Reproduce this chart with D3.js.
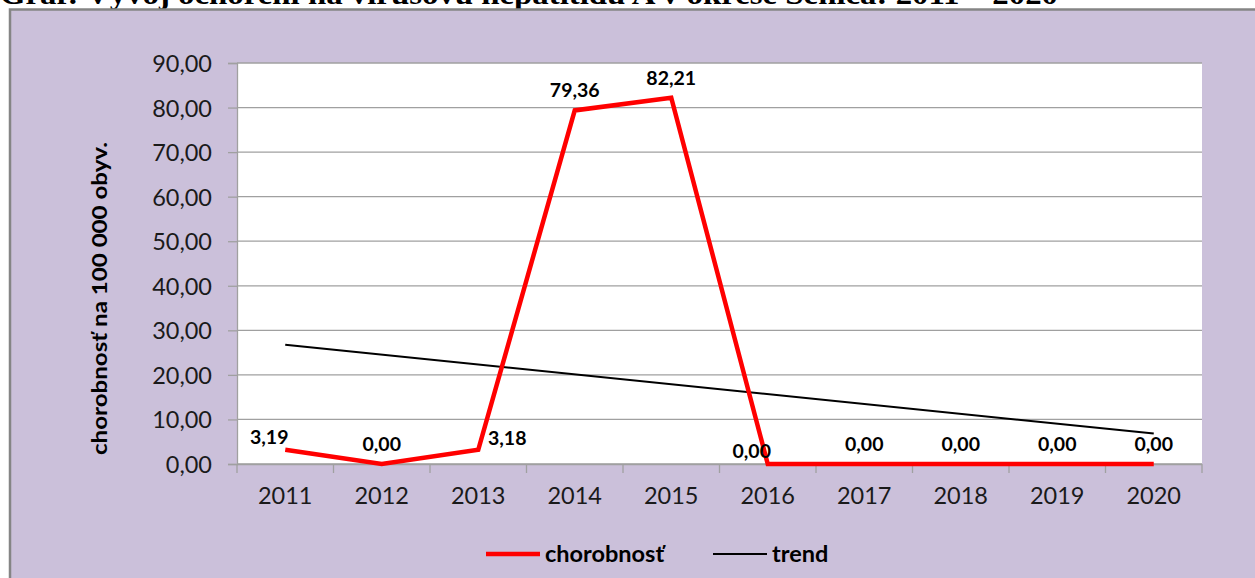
<!DOCTYPE html>
<html>
<head>
<meta charset="utf-8">
<script src="https://cdn.jsdelivr.net/npm/d3@7"></script>
<style>
  body { margin: 0; background: #fff; }
  svg { display: block; }
  text { font-family: Lato, "Open Sans", sans-serif; }
</style>
</head>
<body>
<svg width="1255" height="578"></svg>
<script>
const width = 1255;
const height = 578;

// data
const years = ["2011", "2012", "2013", "2014", "2015", "2016", "2017", "2018", "2019", "2020"];
const chorobnost = [3.19, 0.00, 3.18, 79.36, 82.21, 0.00, 0.00, 0.00, 0.00, 0.00];
const trendYears = ["2011", "2020"];
const trendValues = [26.75, 6.84];
const yTicks = [0, 10, 20, 30, 40, 50, 60, 70, 80, 90];
// where each data label sits relative to its point
const labelPlace = ["left", "above", "right", "above", "above", "left", "above", "above", "above", "above"];

const title = "Graf: Vývoj ochorení na vírusovú hepatitídu A v okrese Senica: 2011 – 2020";

const locale = d3.formatLocale({decimal: ",", thousands: " ", grouping: [3], currency: ["", ""]});
const fmt = locale.format(".2f");

const svg = d3.select("svg");

// titulok (horna cast je orezana)
svg.append("text")
    .attr("x", 0)
    .attr("y", 4)
    .attr("textLength", 1058)
    .attr("lengthAdjust", "spacingAndGlyphs")
    .style("font-family", "'Liberation Serif', 'Times New Roman', serif")
    .style("font-weight", "bold")
    .style("font-size", "30px")
    .text(title);

// pozadie grafu
svg.append("rect")
    .attr("x", 10)
    .attr("y", 9.5)
    .attr("width", 1300)
    .attr("height", 700)
    .attr("fill", "#cbc0da")
    .attr("stroke", "#858585")
    .attr("stroke-width", 2.5);

const plot = {left: 237, top: 63, right: 1202, bottom: 464};

const x = d3.scaleBand()
    .domain(years)
    .range([plot.left, plot.right])
    .padding(0);

const y = d3.scaleLinear()
    .domain([0, 90])
    .range([plot.bottom, plot.top]);

const cx = d => x(d) + x.bandwidth() / 2;

svg.append("rect")
    .attr("x", plot.left)
    .attr("y", plot.top)
    .attr("width", plot.right - plot.left)
    .attr("height", plot.bottom - plot.top)
    .attr("fill", "#fff");

// mriezka
svg.append("g")
    .selectAll("line")
    .data(yTicks)
    .join("line")
    .attr("x1", plot.left)
    .attr("x2", plot.right)
    .attr("y1", d => y(d))
    .attr("y2", d => y(d))
    .attr("stroke", "#a0a0a0")
    .attr("stroke-width", 1.3);

// os y
const yAxis = svg.append("g")
    .attr("transform", `translate(${plot.left},0)`)
    .call(d3.axisLeft(y).tickValues(yTicks).tickFormat(fmt).tickSize(9).tickPadding(16));

// os x
const xAxis = svg.append("g")
    .attr("transform", `translate(0,${plot.bottom})`)
    .call(d3.axisBottom(x).tickSize(0).tickPadding(23));

// x ticks on band edges
xAxis.append("g")
    .selectAll("line")
    .data(years.concat(["end"]))
    .join("line")
    .attr("x1", (d, i) => i < years.length ? x(d) : plot.right)
    .attr("x2", (d, i) => i < years.length ? x(d) : plot.right)
    .attr("y1", 0)
    .attr("y2", 9)
    .attr("stroke", "#a0a0a0")
    .attr("stroke-width", 1.3);

[yAxis, xAxis].forEach(a => {
    a.select(".domain").attr("stroke", "#a0a0a0").attr("stroke-width", 1.3);
    a.selectAll(".tick line").attr("stroke", "#a0a0a0").attr("stroke-width", 1.3);
    a.selectAll(".tick text")
        .style("font-family", "Lato, sans-serif")
        .style("font-size", "23.5px")
        .attr("fill", "#1a1a1a");
});
yAxis.selectAll(".tick text").attr("dy", "0.36em");
xAxis.select(".domain").attr("d", `M${plot.left},0.5H${plot.right}`);

// nazov osi y
svg.append("text")
    .attr("transform", `translate(107,${(plot.top + plot.bottom) / 2 + 35}) rotate(-90)`)
    .attr("text-anchor", "middle")
    .attr("textLength", 313)
    .attr("lengthAdjust", "spacingAndGlyphs")
    .style("font-weight", "bold")
    .style("font-size", "21px")
    .text("chorobnosť na 100 000 obyv.");

// trend
const line = d3.line()
    .x(d => cx(d[0]))
    .y(d => y(d[1]));

svg.append("path")
    .datum(d3.zip(trendYears, trendValues))
    .attr("d", line)
    .attr("fill", "none")
    .attr("stroke", "#000")
    .attr("stroke-width", 2);

// chorobnost
svg.append("path")
    .datum(d3.zip(years, chorobnost))
    .attr("d", line)
    .attr("fill", "none")
    .attr("stroke", "#ff0000")
    .attr("stroke-width", 4.5)
    .attr("stroke-linejoin", "miter");

// popisky hodnot
const dxPlace = {left: -16, right: 29, above: 0};
const dyPlace = {left: -6, right: -5, above: -13};
svg.append("g")
    .selectAll("text")
    .data(d3.zip(years, chorobnost, labelPlace))
    .join("text")
    .attr("x", d => cx(d[0]) + dxPlace[d[2]])
    .attr("y", d => y(d[1]) + dyPlace[d[2]])
    .attr("text-anchor", "middle")
    .style("font-weight", "bold")
    .style("font-size", "19.5px")
    .text(d => fmt(d[1]));

// legenda
const legend = [
    {name: "chorobnosť", color: "#ff0000", w: 4.5, x: 486},
    {name: "trend", color: "#000", w: 2, x: 713}
];
const lg = svg.append("g")
    .selectAll("g")
    .data(legend)
    .join("g")
    .attr("transform", d => `translate(${d.x},554)`);
lg.append("line")
    .attr("x1", 0).attr("x2", 54)
    .attr("stroke", d => d.color)
    .attr("stroke-width", d => d.w);
lg.append("text")
    .attr("x", 59)
    .attr("dy", "0.35em")
    .style("font-weight", "bold")
    .style("font-size", "23.5px")
    .text(d => d.name);
</script>
</body>
</html>
